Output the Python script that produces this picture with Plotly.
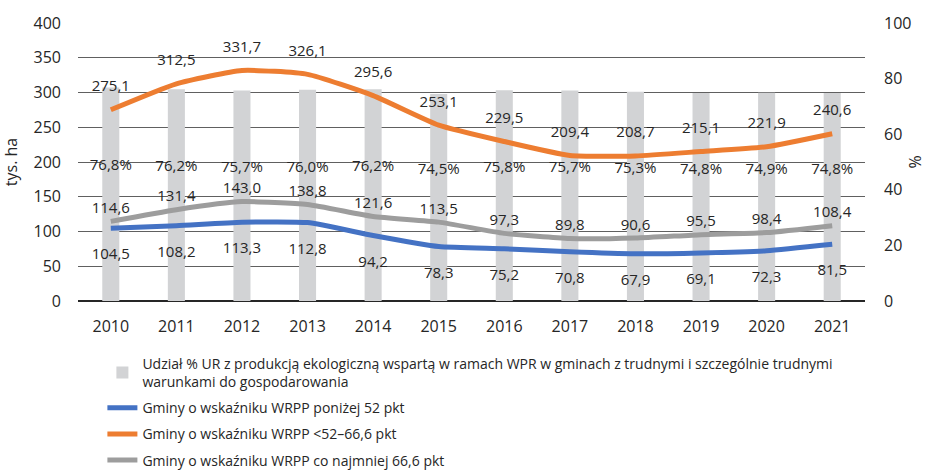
import plotly.graph_objects as go

years = ["2010", "2011", "2012", "2013", "2014", "2015", "2016", "2017", "2018", "2019", "2020", "2021"]
share_pct = [76.8, 76.2, 75.7, 76.0, 76.2, 74.5, 75.8, 75.7, 75.3, 74.8, 74.9, 74.8]
below_52 = [104.5, 108.2, 113.3, 112.8, 94.2, 78.3, 75.2, 70.8, 67.9, 69.1, 72.3, 81.5]
mid_52_66 = [275.1, 312.5, 331.7, 326.1, 295.6, 253.1, 229.5, 209.4, 208.7, 215.1, 221.9, 240.6]
above_66 = [114.6, 131.4, 143.0, 138.8, 121.6, 113.5, 97.3, 89.8, 90.6, 95.5, 98.4, 108.4]

names = [
    "Udział % UR z produkcją ekologiczną wspartą w ramach WPR w gminach z trudnymi i szczególnie trudnymi<br>warunkami do gospodarowania",
    "Gminy o wskaźniku WRPP poniżej 52 pkt",
    "Gminy o wskaźniku WRPP <52–66,6 pkt",
    "Gminy o wskaźniku WRPP co najmniej 66,6 pkt",
]

def fmt(v, suffix=""):
    return f"{v:.1f}".replace(".", ",") + suffix

FONT = "Open Sans, DejaVu Sans, sans-serif"
TXT = "#262626"

fig = go.Figure()

# bars on base axis (right, %)
fig.add_trace(go.Bar(
    x=years, y=share_pct, yaxis="y", width=0.26,
    marker=dict(color="#d2d3d5", line=dict(width=0)),
    name=names[0], legendgroup="a", hoverinfo="skip",
))
fig.add_trace(go.Scatter(
    x=years, y=[v * 0.63 for v in share_pct], yaxis="y", mode="text",
    text=[fmt(v, "%") for v in share_pct], textfont=dict(family=FONT, size=15, color=TXT),
    showlegend=False, hoverinfo="skip",
))

line_specs = [
    (below_52, "#4472c4", names[1], "bottom center", "b", 30),
    (mid_52_66, "#ed7d31", names[2], "top center", "c", 22),
    (above_66, "#9d9d9d", names[3], "top center", "d", 0),
]
for vals, col, nm, tp, grp, msize in line_specs:
    fig.add_trace(go.Scatter(
        x=years, y=vals, yaxis="y2", mode="lines+markers+text", name=nm, legendgroup=grp,
        line=dict(color=col, width=5, shape="spline", smoothing=0.5),
        marker=dict(size=msize, color="rgba(0,0,0,0)"),
        text=[fmt(v) for v in vals], textposition=tp,
        textfont=dict(family=FONT, size=15, color=TXT),
        cliponaxis=False,
    ))

fig.update_layout(
    width=926, height=473,
    margin=dict(l=78, r=61, t=23, b=172, autoexpand=False),
    paper_bgcolor="white", plot_bgcolor="white",
    font=dict(family=FONT, size=16, color=TXT),
    showlegend=True,
    legend=dict(
        orientation="v", x=0.031, y=-0.168, xanchor="left", yanchor="top",
        font=dict(family=FONT, size=14, color=TXT),
        tracegroupgap=5, itemwidth=30, bgcolor="rgba(0,0,0,0)",
    ),
    xaxis=dict(
        type="category", range=[-0.5, 11.5], showgrid=False, showline=False,
        ticks="", ticklabelstandoff=14, tickfont=dict(size=16),
    ),
    yaxis=dict(
        range=[0, 100], dtick=20, side="right", showgrid=False,
        minor=dict(dtick=12.5, showgrid=True, gridcolor="#606060", gridwidth=1, ticks=""),
        zeroline=True, zerolinecolor="#262626", zerolinewidth=2,
        title=dict(text="%", font=dict(size=16), standoff=14),
        ticklabelstandoff=18, tickfont=dict(size=16),
    ),
    yaxis2=dict(
        range=[0, 400], dtick=50, overlaying="y", side="left", showgrid=False,
        zeroline=False,
        title=dict(text="tys. ha", font=dict(size=16), standoff=12),
        ticklabelstandoff=16, tickfont=dict(size=16),
    ),
)

fig.write_html(
    "out.html",
    config={"displayModeBar": False},
    post_script="document.body.style.margin='0';document.body.style.overflow='hidden';",
)
